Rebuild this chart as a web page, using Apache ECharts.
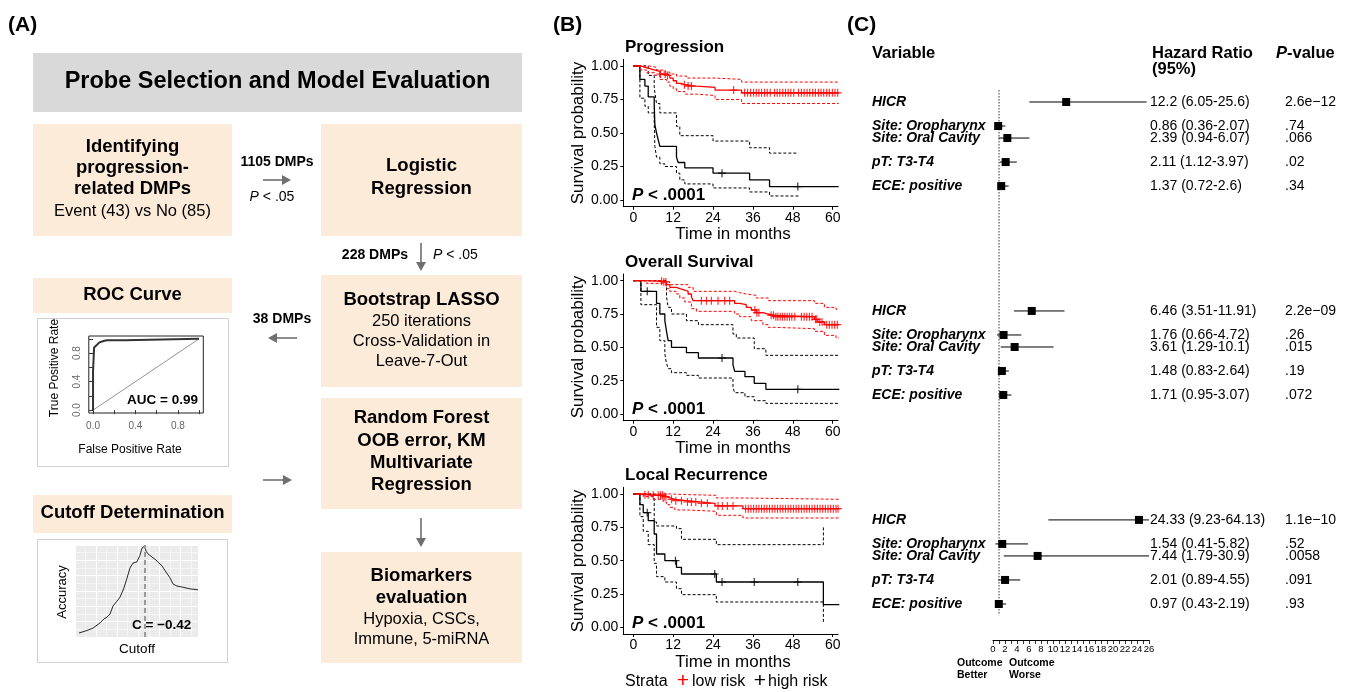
<!DOCTYPE html>
<html>
<head>
<meta charset="utf-8">
<script src="https://cdn.jsdelivr.net/npm/echarts@6/dist/echarts.min.js"></script>
<style>
html, body { margin: 0; padding: 0; background: #fff; }
#main { width: 1354px; height: 692px; }
</style>
</head>
<body>
<div id="main"></div>
<script>
// ---- data ----
var kmTicks = [0, 12, 24, 36, 48, 60];
var survTicks = [0, 0.25, 0.5, 0.75, 1];

// Progression: [month, survival]
var progLow = [[0,1],[2.3,0.99],[3.5,0.98],[5,0.97],[6.5,0.96],[8,0.94],[10,0.93],[11,0.91],[12,0.89],[13,0.87],[14.5,0.86],[15.5,0.85],[19,0.84],[24.6,0.82],[32.6,0.80],[61.8,0.80]];
var progLowUp = [[0,1],[5,0.99],[7,0.97],[9,0.955],[11,0.94],[13,0.925],[16,0.91],[24.6,0.90],[32.6,0.88],[61.8,0.88]];
var progLowLo = [[0,1],[2.3,0.97],[4,0.95],[6.5,0.93],[8,0.90],[10,0.88],[11,0.85],[12,0.83],[13,0.81],[15.5,0.79],[19,0.78],[24.6,0.75],[32.6,0.72],[61.8,0.72]];
var progLowCens = [8.2,9.6,10.3,15.4,16.5,17.5,30.2,33.5,34.4,35.3,36.2,37,37.8,38.6,39.5,40.3,41.2,42.5,43.3,44.1,45,45.8,46.6,47.4,48.3,49.7,50.6,51.4,52.3,53.1,54,54.8,55.7,56.5,57.3,58.2,59,59.9,60.7,61.5];
var progHigh = [[0,1],[2,0.9],[3.5,0.85],[4.5,0.77],[6.3,0.71],[6.5,0.56],[7,0.5],[7.5,0.45],[8,0.40],[13,0.32],[13.5,0.28],[15.5,0.24],[24,0.2],[35,0.15],[41,0.10],[61.8,0.10]];
var progHighUp = [[0,1],[4.5,0.93],[6.3,0.85],[6.5,0.8],[7,0.72],[8,0.65],[13,0.55],[14,0.48],[24,0.44],[35,0.39],[41,0.35],[49.7,0.35]];
var progHighLo = [[0,1],[2,0.76],[3.5,0.7],[4.5,0.65],[6.3,0.58],[6.5,0.4],[7,0.32],[8,0.27],[9.5,0.25],[13,0.2],[14,0.15],[15.5,0.12],[24,0.09],[35,0.06],[41,0.03],[49.7,0.03]];
var progHighCens = [26.7, 49.5];

// Overall survival
var osLow = [[0,1],[3,0.995],[9,0.99],[10,0.97],[11,0.95],[13,0.94],[14,0.93],[15.5,0.92],[16.5,0.90],[17.5,0.88],[18,0.85],[30.5,0.83],[32,0.82],[34,0.80],[35.5,0.78],[37,0.76],[39,0.75],[40.6,0.74],[42.5,0.73],[54.5,0.71],[55.5,0.69],[57.5,0.67],[62,0.67]];
var osLowUp = [[0,1],[10,0.99],[11,0.97],[16.5,0.95],[18,0.92],[30.5,0.91],[32,0.90],[34,0.89],[37,0.87],[40.6,0.85],[54.5,0.83],[57.5,0.80],[61,0.785],[62,0.78]];
var osLowLo = [[0,1],[4,0.98],[9,0.97],[10,0.94],[11,0.92],[13,0.90],[14,0.87],[15.5,0.84],[17.5,0.79],[19,0.77],[30.5,0.75],[32,0.73],[35.5,0.70],[39,0.67],[40.6,0.65],[42.5,0.64],[54.5,0.62],[57.5,0.59],[61,0.57],[62,0.57]];
var osLowCens = [8.5,9.2,9.8,20.5,22,23.5,25.5,27.5,29,36.6,37.2,37.8,41.5,42.2,42.9,43.5,44.2,44.9,45.6,46.3,47,47.7,48.6,50.6,51.4,52.2,53,53.8,54.8,55.2,56.1,56.8,58.2,59,59.8,60.6,61.4];
var osHigh = [[0,1],[2.3,0.92],[7,0.83],[8,0.75],[9.5,0.70],[10,0.62],[10.5,0.55],[11.5,0.50],[16,0.46],[19.6,0.42],[30,0.37],[30.5,0.32],[33.6,0.28],[36.4,0.23],[39.9,0.185],[62,0.185]];
var osHighUp = [[0,1],[10,0.88],[10.5,0.80],[11.5,0.75],[16,0.70],[19.6,0.67],[30,0.60],[31,0.57],[36.4,0.49],[39.9,0.44],[62,0.44]];
var osHighLo = [[0,1],[2.3,0.82],[7,0.65],[8,0.55],[9.5,0.45],[10,0.38],[10.5,0.34],[11.5,0.31],[16,0.29],[19.6,0.27],[30,0.20],[30.5,0.16],[33.6,0.13],[36.4,0.10],[39.9,0.08],[62,0.08]];
var osHighCens = [4.2, 26.7, 49.5];

// Local recurrence
var lrLow = [[0,1],[3,0.995],[5,0.99],[9,0.98],[10,0.97],[11,0.96],[12.5,0.95],[16,0.94],[20,0.93],[24.6,0.91],[33,0.89],[62,0.89]];
var lrLowUp = [[0,1],[11,0.995],[16,0.99],[25,0.97],[33,0.96],[62,0.96]];
var lrLowLo = [[0,1],[3,0.98],[6,0.96],[9,0.94],[10,0.92],[11,0.90],[12.5,0.88],[16,0.87],[25,0.84],[33,0.82],[62,0.82]];
var lrLowCens = [3.5,4.5,6,7.5,8.2,8.8,9.3,9.8,11.5,12.8,14.5,16.3,17.5,18.8,20.5,22.3,25.5,26.8,28.3,30,33.8,34.6,35.4,36.2,37,37.8,38.6,39.4,40.2,41,41.8,42.6,43.4,44.2,45,45.8,46.6,47.4,48.2,49,49.8,50.6,51.4,52.2,53,53.8,54.6,55.4,56.2,57,57.8,58.6,59.4,60.2,61,61.6];
var lrHigh = [[0,1],[2,0.92],[3,0.86],[4.5,0.80],[6.3,0.70],[7,0.55],[9.5,0.50],[13,0.45],[14.5,0.40],[25,0.34],[57.2,0.17],[62,0.17]];
var lrHighUp = [[0,1],[6.3,0.79],[7,0.76],[13,0.74],[14.5,0.66],[25,0.62],[57.2,0.76]];
var lrHighLo = [[0,1],[2,0.83],[3,0.72],[4.5,0.62],[6.3,0.48],[7,0.38],[9.5,0.34],[13,0.29],[14.5,0.245],[25,0.19],[57.2,0.035]];
var lrHighCens = [4.2, 12.7, 24.5, 26.7, 36.4, 49.5];

// ROC curve
var rocFpr = [0, 0, 0.01, 0.01, 0.02, 0.04, 0.06, 0.1, 0.13, 0.3, 0.3, 1];
var rocTpr = [0, 0.55, 0.56, 0.88, 0.90, 0.92, 0.95, 0.97, 0.98, 0.98, 1, 1];
var rocTicks = [0, 0.2, 0.4, 0.6, 0.8, 1];
var rocLabels = [0, 0.4, 0.8];

// accuracy vs cutoff
var cutX = [-1.203,-1.120,-1.036,-0.953,-0.906,-0.870,-0.835,-0.799,-0.752,-0.716,-0.669,-0.633,-0.598,-0.562,-0.515,-0.479,-0.455,-0.432,-0.420,-0.408,-0.384,-0.337,-0.277,-0.218,-0.171,-0.123,-0.088,-0.040,0.019,0.114,0.209];
var cutAcc = [0.563,0.570,0.579,0.596,0.609,0.615,0.625,0.651,0.667,0.680,0.710,0.742,0.775,0.791,0.795,0.817,0.840,0.843,0.847,0.830,0.821,0.811,0.798,0.782,0.762,0.743,0.723,0.716,0.713,0.707,0.704];
var cutBest = -0.42;

// forest plot
var forestVars = ['HICR', 'Site: Oropharynx', 'Site: Oral Cavity', 'pT: T3-T4', 'ECE: positive'];
var progHR = [12.2, 0.86, 2.39, 2.11, 1.37];
var progLo = [6.05, 0.36, 0.94, 1.12, 0.72];
var progHi = [25.6, 2.07, 6.07, 3.97, 2.6];
var progP = ['2.6e\u221212', '.74', '.066', '.02', '.34'];
var osHR = [6.46, 1.76, 3.61, 1.48, 1.71];
var osLo = [3.51, 0.66, 1.29, 0.83, 0.95];
var osHi = [11.91, 4.72, 10.1, 2.64, 3.07];
var osP = ['2.2e\u221209', '.26', '.015', '.19', '.072'];
var lrHR = [24.33, 1.54, 7.44, 2.01, 0.97];
var lrLo = [9.23, 0.41, 1.79, 0.89, 0.43];
var lrHi = [64.13, 5.82, 30.9, 4.55, 2.19];
var lrP = ['1.1e\u221210', '.52', '.0058', '.091', '.93'];

// ---- layout / style ----
var FONT = '"Liberation Sans", Arial, Helvetica, sans-serif';
var RED = '#ff0000', ARROW = '#6f6f6f', PEACH = '#fcebd9', GREY = '#d9d9d9';
var kmTop = [59.3, 274, 487.3], kmH = [147.4, 146.7, 146.7];
var kmTitles = ['Progression', 'Overall Survival', 'Local Recurrence'];
var forestRowOff = [0, 1, 1.5, 2.5, 3.5];
var forestBlockOff = [0, 8.7, 17.4];
var FOREST_MAX = 26;

var chart = echarts.init(document.getElementById('main'), null, { renderer: 'canvas' });

function survAt(curve, t) {
	var s = curve[0][1];
	for (var i = 0; i < curve.length; i++) {
		if (curve[i][0] <= t) s = curve[i][1];
	}
	return s;
}

function T(x, y, text, size, weight, opt) {
	opt = opt || {};
	return {
		type: 'text', x: x, y: y, rotation: opt.rot || 0, z: 100,
		style: {
			text: text, fontFamily: FONT, fontSize: size, fontWeight: weight || 'normal',
			fontStyle: opt.italic ? 'italic' : 'normal', fill: opt.color || '#000',
			align: opt.align || 'center', verticalAlign: 'middle', rich: opt.rich
		}
	};
}
function R(x, y, w, h, fill, stroke) {
	return { type: 'rect', z: 1, shape: { x: x, y: y, width: w, height: h },
		style: { fill: fill || 'none', stroke: stroke || null, lineWidth: 1 } };
}
function arrow(x1, y1, x2, y2) {
	var dx = x2 - x1, dy = y2 - y1, len = Math.sqrt(dx * dx + dy * dy);
	var ux = dx / len, uy = dy / len, hl = 9, hw = 5;
	var bx = x2 - ux * hl, by = y2 - uy * hl;
	return [
		{ type: 'line', z: 5, shape: { x1: x1, y1: y1, x2: bx, y2: by }, style: { stroke: ARROW, lineWidth: 1.6 } },
		{ type: 'polygon', z: 5, shape: { points: [[x2, y2], [bx - uy * hw, by + ux * hw], [bx + uy * hw, by - ux * hw]] }, style: { fill: ARROW } }
	];
}
function richP(size, bold) {
	return { i: { fontFamily: FONT, fontSize: size, fontStyle: 'italic', fontWeight: bold ? 'bold' : 'normal', fill: '#000' } };
}

// ---- graphic (panel A boxes and free text) ----
var gfx = [];
gfx.push(T(8, 25, '(A)', 21, 'bold', { align: 'left' }));
gfx.push(T(553, 25, '(B)', 21, 'bold', { align: 'left' }));
gfx.push(T(847, 25, '(C)', 21, 'bold', { align: 'left' }));

gfx.push(R(33, 53, 489, 59, GREY));
gfx.push(T(277.5, 82, 'Probe Selection and Model Evaluation', 23.5, 'bold'));

gfx.push(R(33, 124, 199, 112, PEACH));
gfx.push(T(132.5, 147, 'Identifying', 18.5, 'bold'));
gfx.push(T(132.5, 168, 'progression-', 18.5, 'bold'));
gfx.push(T(132.5, 189, 'related DMPs', 18.5, 'bold'));
gfx.push(T(132.5, 211, 'Event (43) vs No (85)', 16.5));

gfx.push(R(321, 124, 201, 112, PEACH));
gfx.push(T(421.5, 166, 'Logistic', 18.5, 'bold'));
gfx.push(T(421.5, 189, 'Regression', 18.5, 'bold'));

gfx.push(R(321, 275, 201, 112, PEACH));
gfx.push(T(421.5, 300, 'Bootstrap LASSO', 18.5, 'bold'));
gfx.push(T(421.5, 321, '250 iterations', 16.5));
gfx.push(T(421.5, 341, 'Cross-Validation in', 16.5));
gfx.push(T(421.5, 361, 'Leave-7-Out', 16.5));

gfx.push(R(321, 398, 201, 111, PEACH));
gfx.push(T(421.5, 418, 'Random Forest', 18.5, 'bold'));
gfx.push(T(421.5, 441, 'OOB error, KM', 18.5, 'bold'));
gfx.push(T(421.5, 463, 'Multivariate', 18.5, 'bold'));
gfx.push(T(421.5, 485, 'Regression', 18.5, 'bold'));

gfx.push(R(321, 552, 201, 111, PEACH));
gfx.push(T(421.5, 576, 'Biomarkers', 18.5, 'bold'));
gfx.push(T(421.5, 598, 'evaluation', 18.5, 'bold'));
gfx.push(T(421.5, 619, 'Hypoxia, CSCs,', 16.5));
gfx.push(T(421.5, 639, 'Immune, 5-miRNA', 16.5));

gfx.push(R(33, 278, 199, 35, PEACH));
gfx.push(T(132.5, 295, 'ROC Curve', 18.5, 'bold'));
gfx.push(R(37.5, 318.5, 191, 148, null, '#d0d0d0'));

gfx.push(R(33, 495, 199, 38, PEACH));
gfx.push(T(132.5, 513, 'Cutoff Determination', 18.5, 'bold'));
gfx.push(R(37.5, 539.5, 190, 123, null, '#d0d0d0'));

gfx = gfx.concat(arrow(263, 180, 291, 180), arrow(421, 243, 421, 271), arrow(297, 338, 268, 338),
	arrow(263, 480, 292, 480), arrow(421, 518, 421, 547));
gfx.push(T(277, 162, '1105 DMPs', 14, 'bold'));
gfx.push(T(272, 197, '{i|P} < .05', 14, 'normal', { rich: richP(14) }));
gfx.push(T(408, 255, '228 DMPs', 14, 'bold', { align: 'right' }));
gfx.push(T(433, 255, '{i|P} < .05', 14, 'normal', { align: 'left', rich: richP(14) }));
gfx.push(T(282, 319, '38 DMPs', 14, 'bold'));

// ROC / cutoff texts
gfx.push(T(55, 368, 'True Positive Rate', 12, 'normal', { rot: Math.PI / 2 }));
gfx.push(T(130, 450, 'False Positive Rate', 12));
gfx.push(T(198, 400, 'AUC = 0.99', 13.5, 'bold', { align: 'right' }));
gfx.push(T(62, 592, 'Accuracy', 13, 'normal', { rot: Math.PI / 2 }));
gfx.push(T(137, 649, 'Cutoff', 13.5));
gfx.push(T(132, 625, 'C = \u22120.42', 13.5, 'bold', { align: 'left' }));

// KM texts
var kmCenterY = [133, 347, 561], kmXNameY = [234, 448, 662], kmPY = [195, 409, 623], kmTitleY = [47, 262, 475];
for (var k = 0; k < 3; k++) {
	gfx.push(T(625, kmTitleY[k], kmTitles[k], 17, 'bold', { align: 'left' }));
	gfx.push(T(578, kmCenterY[k], 'Survival probability', 17, 'normal', { rot: Math.PI / 2 }));
	gfx.push(T(733, kmXNameY[k], 'Time in months', 17));
	gfx.push(T(632, kmPY[k], '{i|P} < .0001', 17, 'bold', { align: 'left', rich: richP(17, true) }));
}
gfx.push(T(625, 682, 'Strata', 16, 'normal', { align: 'left' }));
gfx.push(T(683, 681, '+', 21, 'normal', { color: RED }));
gfx.push(T(692, 682, 'low risk', 16, 'normal', { align: 'left' }));
gfx.push(T(760, 681, '+', 21, 'normal'));
gfx.push(T(768, 682, 'high risk', 16, 'normal', { align: 'left' }));

// forest headers
gfx.push(T(872, 53, 'Variable', 16.5, 'bold', { align: 'left' }));
gfx.push(T(1152, 53, 'Hazard Ratio', 16.5, 'bold', { align: 'left' }));
gfx.push(T(1152, 69, '(95%)', 16.5, 'bold', { align: 'left' }));
gfx.push(T(1276, 53, '{i|P}-value', 16.5, 'bold', { align: 'left', rich: richP(16.5, true) }));
gfx.push(T(957, 663, 'Outcome', 10.5, 'bold', { align: 'left' }));
gfx.push(T(957, 675, 'Better', 10.5, 'bold', { align: 'left' }));
gfx.push(T(1009, 663, 'Outcome', 10.5, 'bold', { align: 'left' }));
gfx.push(T(1009, 675, 'Worse', 10.5, 'bold', { align: 'left' }));

// ---- grids & axes ----
var grids = [], xAxes = [], yAxes = [], series = [];
for (var k = 0; k < 3; k++) {
	grids.push({ left: 623.3, top: kmTop[k], width: 214.7, height: kmH[k], outerBoundsMode: 'none' });
	xAxes.push({
		gridIndex: k, type: 'value', min: -3, max: 61.6,
		axisLine: { show: true, onZero: false, lineStyle: { color: '#000', width: 1 } },
		axisTick: { show: true, customValues: kmTicks, length: 3, lineStyle: { color: '#000' } },
		axisLabel: { customValues: kmTicks, fontSize: 14, color: '#000', fontFamily: FONT, margin: 4 },
		splitLine: { show: false }
	});
	yAxes.push({
		gridIndex: k, type: 'value', min: -0.05, max: 1.05,
		axisLine: { show: true, onZero: false, lineStyle: { color: '#000', width: 1 } },
		axisTick: { show: true, customValues: survTicks, length: 3, lineStyle: { color: '#000' } },
		axisLabel: { customValues: survTicks, fontSize: 14, color: '#000', fontFamily: FONT, margin: 5,
			formatter: function (v) { return v.toFixed(2); } },
		splitLine: { show: false }
	});
}
// ROC (index 3)
grids.push({ left: 88.8, top: 336, width: 114.5, height: 77, show: true, borderColor: '#222', borderWidth: 1, backgroundColor: 'transparent', outerBoundsMode: 'none' });
xAxes.push({
	gridIndex: 3, type: 'value', min: -0.04, max: 1.04,
	axisLine: { show: false },
	axisTick: { show: true, customValues: rocTicks, length: 4, lineStyle: { color: '#333' } },
	axisLabel: { customValues: rocLabels, fontSize: 10, color: '#666', fontFamily: FONT, margin: 8,
		formatter: function (v) { return v.toFixed(1); } },
	splitLine: { show: false }
});
yAxes.push({
	gridIndex: 3, type: 'value', min: -0.04, max: 1.04,
	axisLine: { show: false },
	axisTick: { show: true, customValues: rocTicks, length: 4, lineStyle: { color: '#333' } },
	axisLabel: { customValues: rocLabels, fontSize: 10, color: '#666', fontFamily: FONT, margin: 7, rotate: 90,
		formatter: function (v) { return v.toFixed(1); } },
	splitLine: { show: false }
});
// cutoff (index 4)
grids.push({ left: 75, top: 545, width: 123, height: 92, show: true, backgroundColor: '#ebebeb', borderWidth: 0, outerBoundsMode: 'none' });
xAxes.push({
	gridIndex: 4, type: 'value', min: -1.25, max: 0.209, interval: 0.25,
	axisLine: { show: false }, axisTick: { show: false }, axisLabel: { show: false },
	minorTick: { show: false, splitNumber: 2 },
	splitLine: { show: true, lineStyle: { color: '#fff', width: 1.1 } },
	minorSplitLine: { show: true, lineStyle: { color: '#fff', width: 0.5 } }
});
yAxes.push({
	gridIndex: 4, type: 'value', min: 0.55, max: 0.85, interval: 0.05,
	axisLine: { show: false }, axisTick: { show: false }, axisLabel: { show: false },
	minorTick: { show: false, splitNumber: 2 },
	splitLine: { show: true, lineStyle: { color: '#fff', width: 1.1 } },
	minorSplitLine: { show: true, lineStyle: { color: '#fff', width: 0.5 } }
});
// forest (index 5)
grids.push({ left: 993, top: 90, width: 156, height: 550, outerBoundsMode: 'none' });
xAxes.push({
	gridIndex: 5, type: 'value', min: 0, max: FOREST_MAX, interval: 1,
	axisLine: { show: true, onZero: false, lineStyle: { color: '#000', width: 1 } },
	axisTick: { show: true, length: 4, lineStyle: { color: '#000', width: 0.8 } },
	axisLabel: { fontSize: 9.5, color: '#000', fontFamily: FONT, margin: 4,
		formatter: function (v) { return v % 2 === 0 ? String(v) : ''; } },
	splitLine: { show: false }
});
yAxes.push({ gridIndex: 5, type: 'value', min: -0.5, max: 22.4, inverse: true, show: false });

// ---- KM series ----
var kmSets = [
	[progLow, progLowUp, progLowLo, progLowCens, progHigh, progHighUp, progHighLo, progHighCens],
	[osLow, osLowUp, osLowLo, osLowCens, osHigh, osHighUp, osHighLo, osHighCens],
	[lrLow, lrLowUp, lrLowLo, lrLowCens, lrHigh, lrHighUp, lrHighLo, lrHighCens]
];
var PLUS = 'path://M8.5,0H11.5V8.5H20V11.5H11.5V20H8.5V11.5H0V8.5H8.5Z';

function stepLine(k, data, color, dashed, width) {
	return {
		type: 'line', xAxisIndex: k, yAxisIndex: k, data: data, step: 'end', symbol: 'none',
		silent: true, z: 3,
		lineStyle: { color: color, width: width, type: dashed ? [3, 2] : 'solid' }
	};
}
function censors(k, times, curve, color) {
	return {
		type: 'scatter', xAxisIndex: k, yAxisIndex: k, symbol: PLUS, symbolSize: 8, silent: true, z: 4,
		itemStyle: { color: color },
		data: times.map(function (t) { return [t, survAt(curve, t)]; })
	};
}
for (var k = 0; k < 3; k++) {
	var s = kmSets[k];
	series.push(stepLine(k, s[5], '#000', true, 1));
	series.push(stepLine(k, s[6], '#000', true, 1));
	series.push(stepLine(k, s[4], '#000', false, 1.3));
	series.push(censors(k, s[7], s[4], '#000'));
	series.push(stepLine(k, s[1], RED, true, 1));
	series.push(stepLine(k, s[2], RED, true, 1));
	series.push(stepLine(k, s[0], RED, false, 1.3));
	series.push(censors(k, s[3], s[0], RED));
}

// ROC series
series.push({ type: 'line', xAxisIndex: 3, yAxisIndex: 3, data: [[0, 0], [1, 1]], symbol: 'none', silent: true,
	lineStyle: { color: '#777', width: 0.8 } });
series.push({ type: 'line', xAxisIndex: 3, yAxisIndex: 3, symbol: 'none', silent: true,
	data: rocFpr.map(function (f, i) { return [f, rocTpr[i]]; }),
	lineStyle: { color: '#333', width: 2 } });

// cutoff series
series.push({ type: 'line', xAxisIndex: 4, yAxisIndex: 4, symbol: 'none', silent: true,
	data: cutX.map(function (c, i) { return [c, cutAcc[i]]; }),
	lineStyle: { color: '#111', width: 0.9 },
	markLine: { silent: true, symbol: 'none', label: { show: false },
		lineStyle: { color: '#9a9a9a', type: [5, 3], width: 2 },
		data: [{ xAxis: cutBest }] }
});

// forest series
var forestBlocks = [
	{ hr: progHR, lo: progLo, hi: progHi, p: progP },
	{ hr: osHR, lo: osLo, hi: osHi, p: osP },
	{ hr: lrHR, lo: lrLo, hi: lrHi, p: lrP }
];
var forestData = [];
forestBlocks.forEach(function (blk, b) {
	blk.hr.forEach(function (v, r) {
		forestData.push([v, blk.lo[r], blk.hi[r], forestBlockOff[b] + forestRowOff[r], b, r]);
	});
});
series.push({ type: 'line', xAxisIndex: 5, yAxisIndex: 5, data: [[1, -0.5], [1, 21.36]], symbol: 'none', silent: true,
	lineStyle: { color: '#000', width: 0.8, type: [1.5, 1.5] } });
series.push({
	type: 'custom', xAxisIndex: 5, yAxisIndex: 5, data: forestData, silent: true, clip: false,
	renderItem: function (params, api) {
		var b = api.value(4), r = api.value(5), y = api.value(3);
		var blk = forestBlocks[b];
		var pc = api.coord([api.value(0), y]);
		var p0 = api.coord([api.value(1), y]);
		var p1 = api.coord([Math.min(api.value(2), FOREST_MAX), y]);
		var txt = function (x, text, bold, italic) {
			return { type: 'text', x: x, y: pc[1], style: { text: text, fontFamily: FONT, fontSize: 14,
				fontWeight: bold ? 'bold' : 'normal', fontStyle: italic ? 'italic' : 'normal', fill: '#000',
				align: 'left', verticalAlign: 'middle' } };
		};
		return {
			type: 'group', children: [
				{ type: 'line', shape: { x1: p0[0], y1: p0[1], x2: p1[0], y2: p1[1] }, style: { stroke: '#000', lineWidth: 1 } },
				{ type: 'rect', shape: { x: pc[0] - 4, y: pc[1] - 4, width: 8, height: 8 }, style: { fill: '#000' } },
				txt(872, forestVars[r], true, true),
				txt(1150, blk.hr[r] + ' (' + blk.lo[r] + '-' + blk.hi[r] + ')', false, false),
				txt(1285, blk.p[r], false, false)
			]
		};
	}
});

chart.setOption({
	animation: false,
	backgroundColor: '#fff',
	textStyle: { fontFamily: FONT },
	grid: grids,
	xAxis: xAxes,
	yAxis: yAxes,
	series: series,
	graphic: { elements: gfx }
});
</script>
</body>
</html>
